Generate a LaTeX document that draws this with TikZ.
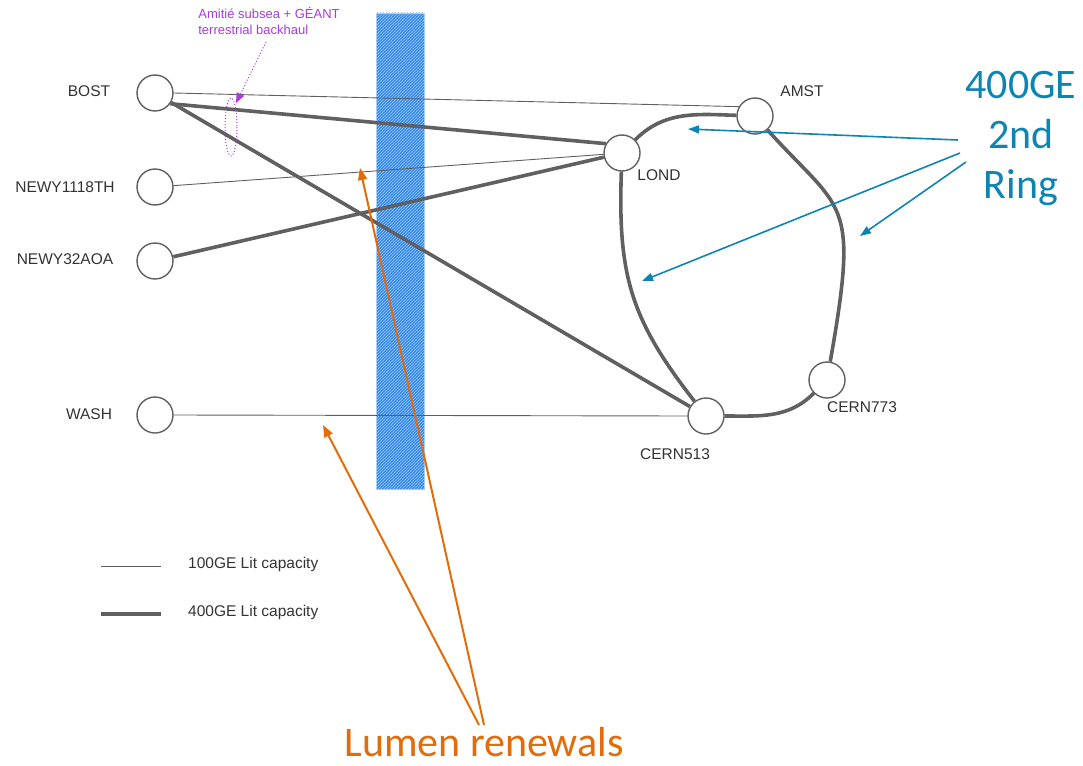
\documentclass[tikz,border=0pt]{standalone}
\usepackage{fontspec}
\setmainfont{Liberation Sans}
\newfontfamily\callout{Carlito}
\usetikzlibrary{arrows.meta,patterns}

\definecolor{linegray}{HTML}{606060}
\definecolor{txtgray}{HTML}{333333}
\definecolor{barblue}{HTML}{3A8EF0}
\definecolor{ringblue}{HTML}{0E84B2}
\definecolor{lumenorange}{HTML}{E36C0A}
\definecolor{amitiepurple}{HTML}{A83CDC}

\begin{document}
\begin{tikzpicture}[x=1pt,y=-1pt]
\tikzstyle{every node}+=[inner sep=0pt]
\tikzstyle{site}=[circle,draw=linegray,line width=1.4pt,fill=white,minimum size=36pt]
\tikzstyle{sitelbl}=[text=txtgray,font=\fontsize{15.5}{18}\selectfont]
\tikzstyle{lit100}=[draw=linegray,line width=0.9pt]
\tikzstyle{lit400}=[draw=linegray,line width=3.6pt]
\tikzstyle{ringarrow}=[draw=ringblue,line width=1.6pt,-{Triangle[length=11pt,width=8pt]}]
\tikzstyle{lumenarrow}=[draw=lumenorange,line width=2pt,-{Triangle[length=12pt,width=9pt]}]
\useasboundingbox (0,0) rectangle (1083,765);

% the Lumen renewal bar
\fill [barblue] (376,13) rectangle (424,489);
\fill [pattern=north east lines,pattern color=barblue!55!white] (376,13) rectangle (424,489);
\draw [barblue!45!white,line width=0.6pt] (376,13) rectangle (424,489);

% sites
\node [site] (bost) at (155,93) {};
\node [site] (newy1118) at (155,187) {};
\node [site] (newy32) at (155,261) {};
\node [site] (wash) at (155,415) {};
\node [site] (lond) at (622,153) {};
\node [site] (amst) at (755,116) {};
\node [site] (cern513) at (706,416) {};
\node [site] (cern773) at (827,380) {};
\node [sitelbl] at (89,91) {BOST};
\node [sitelbl] at (65,187) {NEWY1118TH};
\node [sitelbl] at (65,259) {NEWY32AOA};
\node [sitelbl] at (89,414) {WASH};
\node [sitelbl] at (659,175) {LOND};
\node [sitelbl] at (802,91) {AMST};
\node [sitelbl] at (675,454) {CERN513};
\node [sitelbl] at (862,407) {CERN773};

% links
\draw [lit100] (bost.east) -- (amst.150);
\draw [lit400] (bost.-35) -- (lond.150);
\draw [lit400] (bost) -- (cern513);
\draw [lit100] (newy1118) -- (lond);
\draw [lit400] (newy32) -- (lond);
\draw [lit100] (wash.east) -- (cern513.west);
\draw [lit400] (lond) to[out=45,in=178] (amst);
\draw [lit400] (amst) to[out=-48,in=80,out looseness=1.2,in looseness=1.8] (cern773);
\draw [lit400] (lond) to[out=-92,in=128,looseness=1.1] (cern513);
\draw [lit400] (cern513) to[out=0,in=225] (cern773);

% Amitie note
\node [text=amitiepurple,align=left,font=\fontsize{13}{16}\selectfont] (amitie) at (269,21) {Amitié subsea + GÉANT\\terrestrial backhaul};
\draw [amitiepurple,dotted,line width=1pt] (231,127) ellipse (6 and 29);
\coordinate (amitiefrom) at (266,42);
\draw [amitiepurple,dotted,line width=1pt,-{Triangle[length=10pt,width=8pt]}] (amitiefrom) -- (236,103);

% 400GE ring note
\node [text=ringblue,align=center,font=\callout\fontsize{42}{50}\selectfont] (ring) at (1021,138) {400GE\\2nd\\Ring};
\coordinate (ringa) at (958,140);
\coordinate (ringb) at (960,153);
\coordinate (ringc) at (966,162);
\draw [ringarrow] (ringa) -- (688,129);
\draw [ringarrow] (ringb) -- (642,281);
\draw [ringarrow] (ringc) -- (860,236);

% Lumen note
\node [text=lumenorange,font=\callout\fontsize{42}{50}\selectfont] (lumen) at (484,742) {Lumen renewals};
\coordinate (lumena) at (484,725);
\coordinate (lumenb) at (479,725);
\draw [lumenarrow] (lumena) -- (360,168);
\draw [lumenarrow] (lumenb) -- (323,425);

% legend
\coordinate (leg1a) at (101,566);
\coordinate (leg1b) at (161,566);
\coordinate (leg2a) at (101,614);
\coordinate (leg2b) at (161,614);
\draw [lit100] (leg1a) -- (leg1b);
\draw [lit400] (leg2a) -- (leg2b);
\node [sitelbl,anchor=west] at (188,564) {100GE Lit capacity};
\node [sitelbl,anchor=west] at (188,612) {400GE Lit capacity};
\end{tikzpicture}
\end{document}
